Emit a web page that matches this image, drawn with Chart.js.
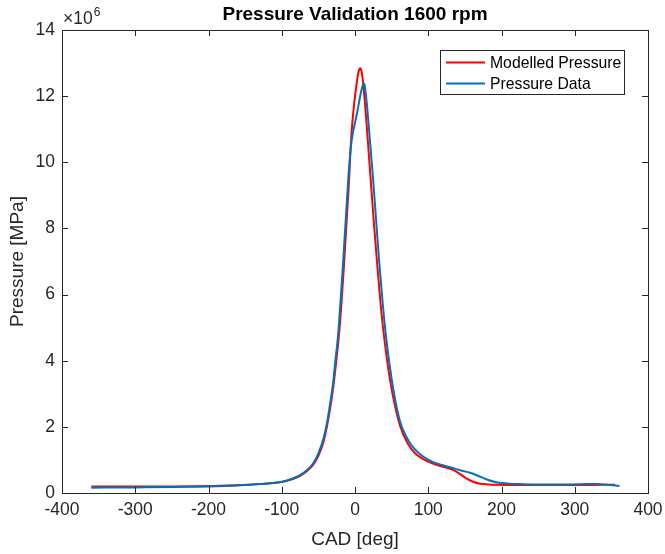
<!DOCTYPE html>
<html>
<head>
<meta charset="utf-8">
<script src="https://cdn.jsdelivr.net/npm/chart.js@4.4.1/dist/chart.umd.min.js"></script>
<style>
	html, body { margin: 0; padding: 0; background: #fff; }
	canvas { display: block; }
</style>
</head>
<body>
<canvas id="chart" width="665" height="554"></canvas>
<script>
// crank angle [deg] and pressure [x1e6 Pa]
const cadModel = [-360, -300, -250, -200, -160, -130, -100, -85, -75, -65,
	-57, -50, -43, -38, -34, -30, -26, -21, -15, -9,
	-5, -1, 3, 5, 7, 9, 12, 15, 18, 22,
	26, 30, 34, 38, 43, 48, 54, 62, 72, 82,
	95, 110, 125, 134, 143, 152, 161, 171, 182, 193,
	220, 260, 300, 340, 355]
const pModel = [0.20, 0.20, 0.20, 0.21, 0.24, 0.27, 0.33, 0.42, 0.52, 0.67,
	0.86, 1.12, 1.55, 2.05, 2.55, 3.15, 3.9, 5.0, 6.9, 9.1,
	10.8, 11.8, 12.5, 12.75, 12.84, 12.75, 12.2, 11.4, 10.5, 9.3,
	8.1, 7.0, 5.95, 5.05, 4.15, 3.4, 2.7, 2.0, 1.5, 1.2,
	1.0, 0.86, 0.76, 0.70, 0.58, 0.44, 0.34, 0.28, 0.26, 0.25,
	0.24, 0.24, 0.24, 0.25, 0.25]

const cadData = [-360, -300, -250, -200, -160, -130, -100, -85, -75, -65,
	-57, -50, -43, -38, -34, -30, -27, -23, -16, -9,
	-6, -3, 0, 2, 5, 8, 11, 12.5, 14, 16,
	18, 21, 25, 29, 33, 37, 41, 45, 50, 55,
	62, 70, 79, 92, 106, 120, 134, 145, 157, 168,
	180, 190, 198, 210, 225, 250, 270, 295, 316, 330,
	343, 361]
const pData = [0.16, 0.17, 0.18, 0.20, 0.23, 0.27, 0.34, 0.44, 0.54, 0.70,
	0.90, 1.2, 1.65, 2.15, 2.7, 3.3, 3.95, 4.8, 7.05, 9.56,
	10.4, 10.88, 11.2, 11.4, 11.75, 12.1, 12.35, 12.38, 12.2, 11.8,
	11.3, 10.5, 9.4, 8.2, 7.0, 5.95, 5.0, 4.25, 3.45, 2.8,
	2.12, 1.7, 1.39, 1.12, 0.94, 0.84, 0.75, 0.68, 0.61, 0.52,
	0.41, 0.34, 0.31, 0.28, 0.27, 0.26, 0.26, 0.26, 0.27, 0.27,
	0.25, 0.21]

const xTicks = [-400, -300, -200, -100, 0, 100, 200, 300, 400]
const yTicks = [0, 2, 4, 6, 8, 10, 12, 14]
const SCALE = 1e6

const chartTitle = 'Pressure Validation 1600 rpm'
const xLabel = 'CAD [deg]'
const yLabel = 'Pressure [MPa]'
const seriesNames = ['Modelled Pressure', 'Pressure Data']
const seriesColors = ['#ff0000', '#0072bd']

const FONT = '"Liberation Sans", Arial, Helvetica, sans-serif'
const AXIS = '#262626'

const toPoints = (xs, ys) => xs.map((x, i) => ({ x, y: ys[i] * SCALE }))

// matlab style frame: box, inward ticks, title, exponent, labels, legend
const matlabFrame = {
	id: 'matlabFrame',
	afterDraw(chart) {
		const { ctx, chartArea: a, scales } = chart
		const tl = 6
		ctx.save()
		ctx.strokeStyle = AXIS
		ctx.lineWidth = 1
		ctx.strokeRect(Math.round(a.left) + 0.5, Math.round(a.top) + 0.5,
			Math.round(a.right - a.left), Math.round(a.bottom - a.top))

		ctx.beginPath()
		xTicks.forEach((v) => {
			const px = Math.round(scales.x.getPixelForValue(v)) + 0.5
			ctx.moveTo(px, a.bottom); ctx.lineTo(px, a.bottom - tl)
			ctx.moveTo(px, a.top); ctx.lineTo(px, a.top + tl)
		})
		yTicks.forEach((v) => {
			const py = Math.round(scales.y.getPixelForValue(v * SCALE)) + 0.5
			ctx.moveTo(a.left, py); ctx.lineTo(a.left + tl, py)
			ctx.moveTo(a.right, py); ctx.lineTo(a.right - tl, py)
		})
		ctx.stroke()

		// title
		ctx.fillStyle = '#000'
		ctx.font = `bold 19px ${FONT}`
		ctx.textAlign = 'center'
		ctx.textBaseline = 'middle'
		ctx.fillText(chartTitle, (a.left + a.right) / 2, 15)

		// exponent
		ctx.fillStyle = AXIS
		ctx.textAlign = 'left'
		ctx.textBaseline = 'alphabetic'
		ctx.font = `17.5px ${FONT}`
		ctx.fillText('\u00d710', a.left + 1, 24)
		const w = ctx.measureText('\u00d710').width
		ctx.font = `12px ${FONT}`
		ctx.fillText('6', a.left + 1 + w + 1, 16)

		// axis labels
		ctx.font = `19px ${FONT}`
		ctx.textAlign = 'center'
		ctx.textBaseline = 'middle'
		ctx.fillText(xLabel, (a.left + a.right) / 2, 540)
		ctx.save()
		ctx.translate(18, (a.top + a.bottom) / 2)
		ctx.rotate(-Math.PI / 2)
		ctx.fillText(yLabel, 0, 0)
		ctx.restore()

		// legend
		const lx = 440.5
		const ly = 50.5
		ctx.fillStyle = '#fff'
		ctx.fillRect(lx, ly, 184, 44)
		ctx.strokeStyle = AXIS
		ctx.strokeRect(lx, ly, 184, 44)
		ctx.font = `15.75px ${FONT}`
		ctx.textAlign = 'left'
		seriesNames.forEach((name, i) => {
			const y = 62.5 + i * 21
			ctx.strokeStyle = seriesColors[i]
			ctx.lineWidth = 2
			ctx.beginPath()
			ctx.moveTo(446, y); ctx.lineTo(485, y)
			ctx.stroke()
			ctx.fillStyle = '#000'
			ctx.fillText(name, 490, y + 1)
		})
		ctx.restore()
	},
}

const chart = new Chart(document.getElementById('chart'), {
	type: 'line',
	data: {
		datasets: [
			{
				label: seriesNames[0],
				data: toPoints(cadModel, pModel),
				borderColor: seriesColors[0],
				borderWidth: 2,
				order: 1,
			},
			{
				label: seriesNames[1],
				data: toPoints(cadData, pData),
				borderColor: seriesColors[1],
				borderWidth: 2,
				order: 0,
			},
		],
	},
	options: {
		responsive: false,
		animation: false,
		devicePixelRatio: 1,
		elements: {
			point: { radius: 0 },
			line: { cubicInterpolationMode: 'monotone', fill: false },
		},
		layout: { padding: { left: 0, top: 30, right: 17, bottom: 0 } },
		plugins: {
			legend: { display: false },
			title: { display: false },
			tooltip: { enabled: false },
		},
		scales: {
			x: {
				type: 'linear',
				min: -400,
				max: 400,
				grid: { display: false, drawTicks: false },
				border: { display: false },
				afterBuildTicks: (scale) => { scale.ticks = xTicks.map((value) => ({ value })) },
				afterFit: (scale) => {
					scale.height = 61
					scale.paddingLeft = 0
					scale.paddingRight = 0
				},
				ticks: {
					autoSkip: false,
					maxRotation: 0,
					padding: 7,
					color: AXIS,
					font: { family: FONT, size: 17.5 },
				},
			},
			y: {
				type: 'linear',
				min: 0,
				max: 14 * SCALE,
				grid: { display: false, drawTicks: false },
				border: { display: false },
				afterBuildTicks: (scale) => { scale.ticks = yTicks.map((v) => ({ value: v * SCALE })) },
				afterFit: (scale) => {
					scale.width = 62
					scale.paddingTop = 0
					scale.paddingBottom = 0
				},
				ticks: {
					padding: 7,
					color: AXIS,
					font: { family: FONT, size: 17.5 },
					callback: (value) => String(value / SCALE),
				},
			},
		},
	},
	plugins: [matlabFrame],
})
</script>
</body>
</html>
